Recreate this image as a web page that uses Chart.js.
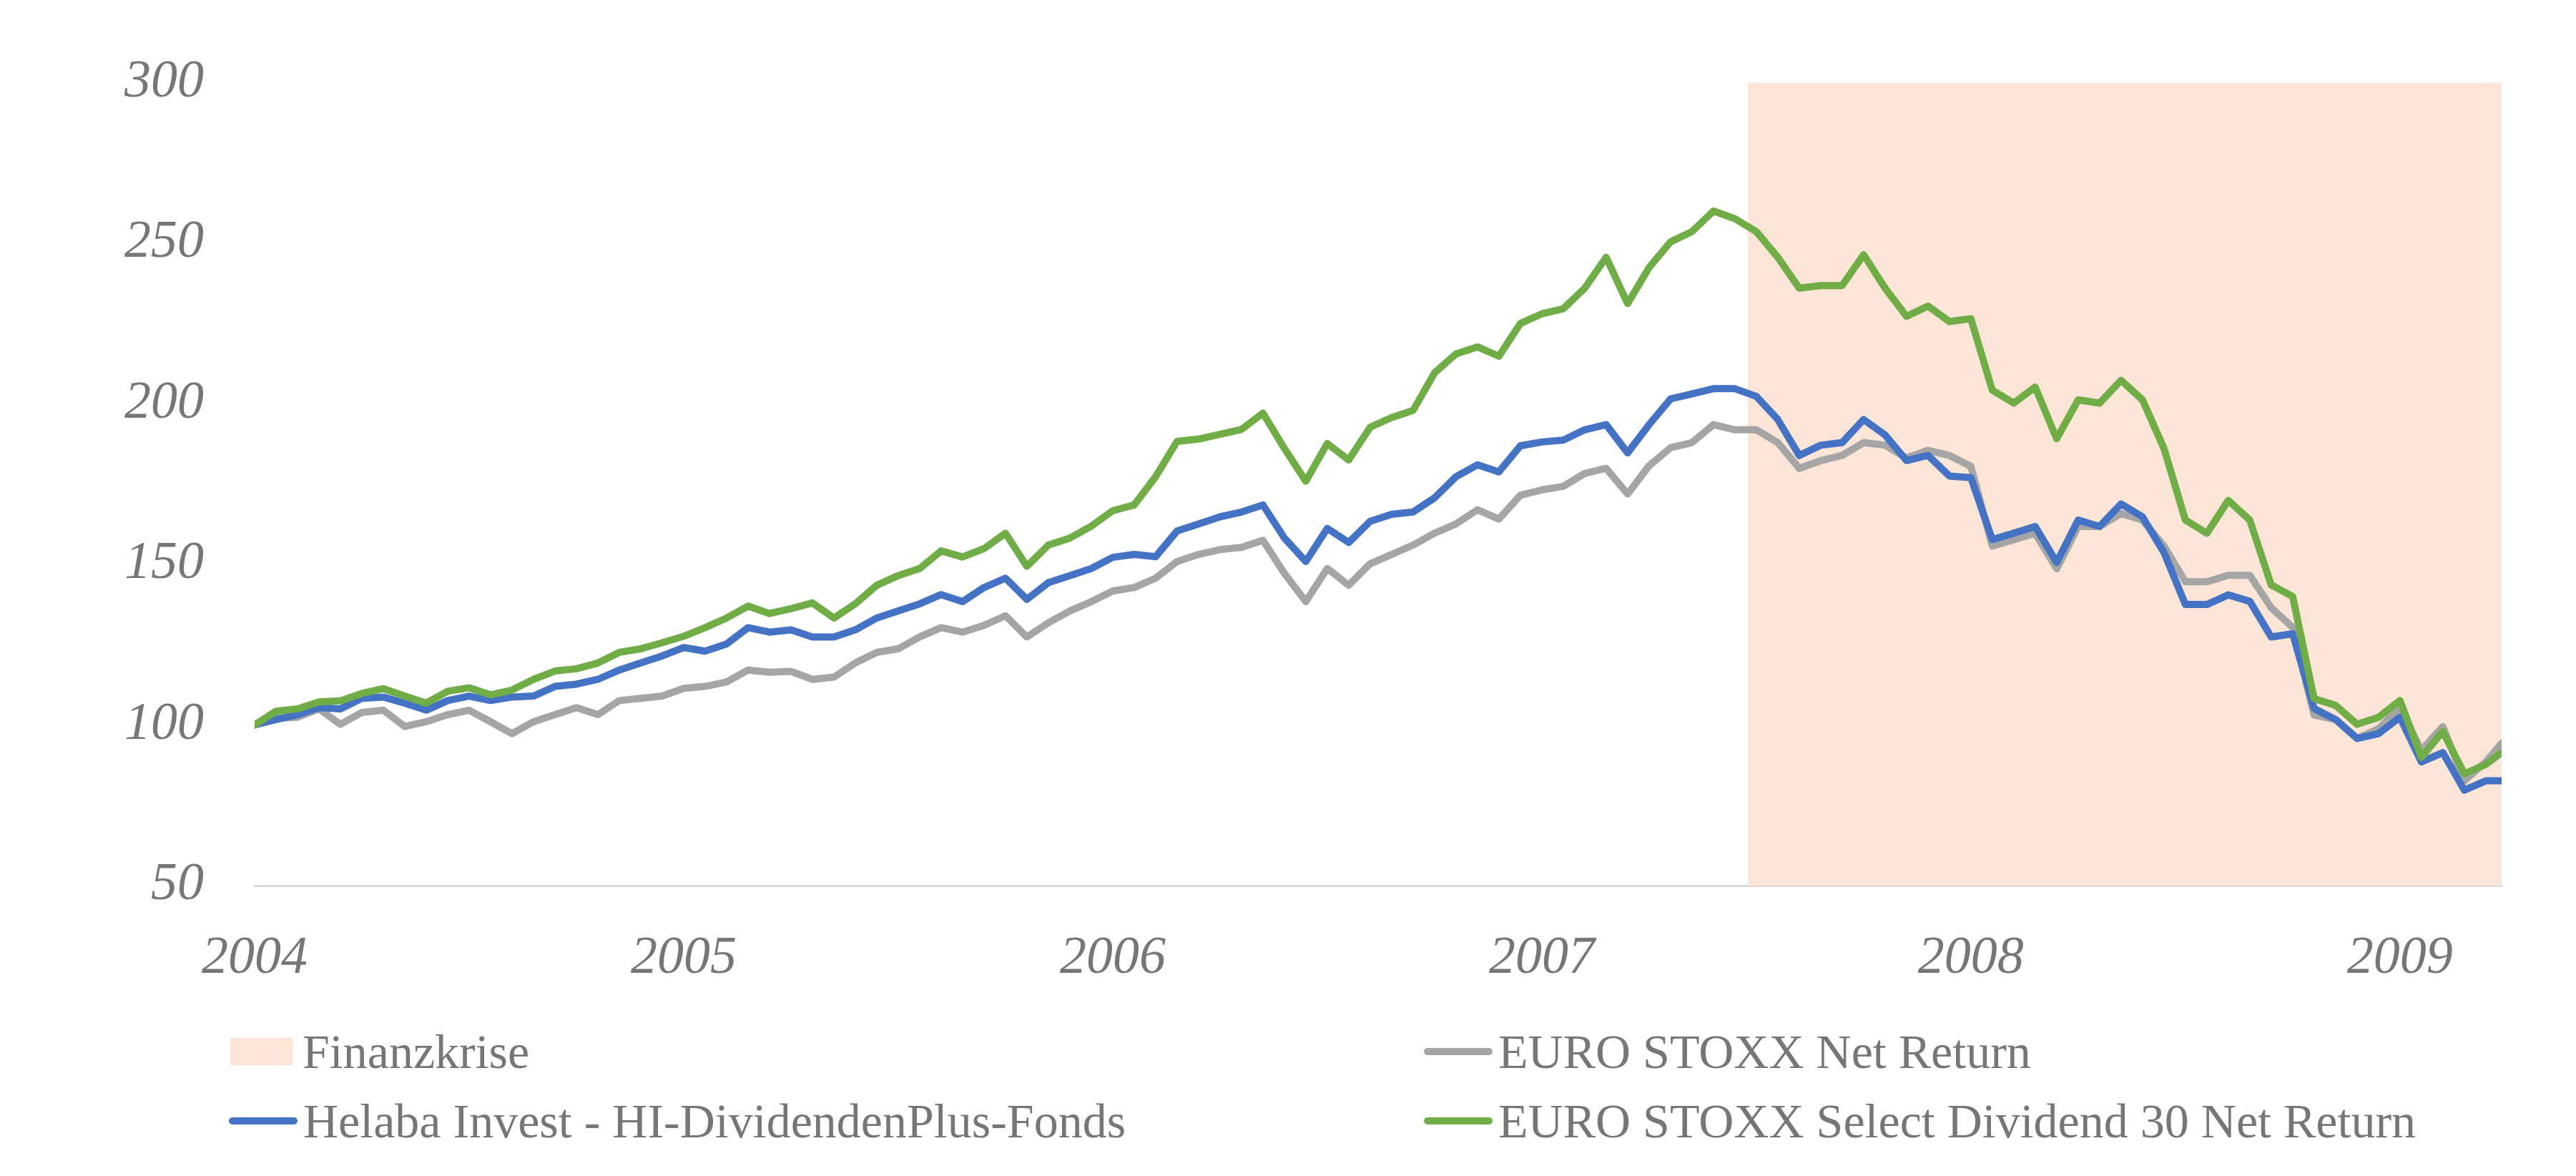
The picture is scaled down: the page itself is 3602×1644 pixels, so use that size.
<!DOCTYPE html>
<html>
<head>
<meta charset="utf-8">
<script src="https://cdn.jsdelivr.net/npm/chart.js@4.4.1/dist/chart.umd.min.js"></script>
<style>
html,body{margin:0;padding:0;background:#fff;}
#wrap{position:relative;width:3602px;height:1644px;overflow:hidden;}
#c{position:absolute;left:0;top:0;}
.leg{position:absolute;height:100px;display:flex;align-items:center;white-space:nowrap;
     font-family:"Liberation Serif",serif;font-size:68px;color:#767676;}
.key-line{width:96px;height:10px;border-radius:5px;margin-right:8px;}
.key-box{width:87px;height:38px;margin-right:14px;}
</style>
</head>
<body>
<div id="wrap">
<canvas id="c" width="3602" height="1644"></canvas>
</div>
<script>
// ---- data (decimal years) ----
const times = [
2004.00,2004.05,2004.10,2004.15,2004.20,2004.25,2004.30,2004.35,2004.40,2004.45,
2004.50,2004.55,2004.60,2004.65,2004.70,2004.75,2004.80,2004.85,2004.90,2004.95,
2005.00,2005.05,2005.10,2005.15,2005.20,2005.25,2005.30,2005.35,2005.40,2005.45,
2005.50,2005.55,2005.60,2005.65,2005.70,2005.75,2005.80,2005.85,2005.90,2005.95,
2006.00,2006.05,2006.10,2006.15,2006.20,2006.25,2006.30,2006.35,2006.40,2006.45,
2006.50,2006.55,2006.60,2006.65,2006.70,2006.75,2006.80,2006.85,2006.90,2006.95,
2007.00,2007.05,2007.10,2007.15,2007.20,2007.25,2007.30,2007.35,2007.40,2007.45,
2007.50,2007.55,2007.60,2007.65,2007.70,2007.75,2007.80,2007.85,2007.90,2007.95,
2008.00,2008.05,2008.10,2008.15,2008.20,2008.25,2008.30,2008.35,2008.40,2008.45,
2008.50,2008.55,2008.60,2008.65,2008.70,2008.75,2008.80,2008.85,2008.90,2008.95,
2009.00,2009.05,2009.10,2009.15,2009.20,2009.237
];

const helaba = [
100.0,101.7,103.2,105.4,105.0,108.3,108.7,106.8,104.6,107.6,
109.0,107.6,108.7,109.0,112.0,112.7,114.2,117.1,119.3,121.5,
124.1,123.0,125.2,130.3,128.9,129.6,127.4,127.4,129.6,133.3,
135.5,137.7,140.6,138.4,142.8,145.7,139.1,144.3,146.5,148.7,
152.2,153.1,152.4,160.4,162.6,164.8,166.3,168.5,158.2,150.9,
161.2,156.8,163.4,165.6,166.3,170.7,177.3,181.0,178.8,186.9,
188.1,188.7,191.9,193.5,184.7,193.5,201.5,203.1,204.7,204.7,
202.3,195.1,183.9,187.1,187.9,195.1,190.3,182.3,183.9,177.5,
177.0,157.7,159.7,161.8,150.6,163.8,161.8,168.8,164.8,153.7,
137.5,137.5,140.5,138.5,127.4,128.4,105.1,101.7,95.8,97.3,
102.4,88.5,91.4,79.7,82.6,82.6
];

const euroStoxx = [
100.0,102.1,102.4,105.0,100.2,103.9,104.6,99.5,101.0,103.2,
104.6,101.0,97.3,101.0,103.2,105.4,103.2,107.6,108.3,109.0,
111.4,112.0,113.4,117.1,116.4,116.7,114.2,114.9,119.3,122.6,
123.7,127.4,130.3,128.9,131.0,134.0,127.4,131.8,135.5,138.4,
141.7,142.8,145.7,150.9,153.1,154.6,155.3,157.5,147.2,138.4,
148.7,143.5,150.2,153.1,156.0,159.7,162.6,167.0,164.1,171.5,
173.2,174.3,178.3,179.9,171.9,180.7,186.3,187.9,193.5,191.9,
191.9,187.9,179.9,182.3,183.9,187.9,187.1,183.1,185.5,183.9,
180.5,155.7,157.7,159.7,148.6,161.8,161.8,165.8,163.8,155.7,
144.6,144.6,146.6,146.6,136.5,130.4,103.1,101.7,95.8,98.8,
105.4,92.1,99.5,82.6,88.5,94.3
];

const selectDiv30 = [
100.0,104.3,105.0,107.2,107.5,109.8,111.3,109.0,106.8,110.5,
111.6,109.4,110.9,114.2,116.8,117.5,119.3,122.6,123.7,125.6,
127.6,130.3,133.3,137.0,134.7,136.2,138.0,133.3,137.7,143.5,
146.5,148.7,154.2,152.3,154.9,159.7,149.4,156.0,158.2,161.9,
166.7,168.5,177.3,188.3,189.0,190.5,192.0,197.1,186.1,175.9,
187.6,182.5,192.7,195.7,197.9,209.6,215.5,217.7,214.8,225.0,
228.0,229.6,236.0,245.6,231.2,242.4,250.4,253.6,260.0,257.6,
253.6,245.6,236.0,236.8,236.8,246.4,236.0,227.2,230.4,225.6,
226.5,204.2,200.2,205.2,189.1,201.2,200.2,207.3,201.2,186.1,
163.8,159.7,169.9,163.8,143.6,140.0,108.2,106.1,100.2,102.4,
107.6,89.9,98.0,84.8,87.7,91.4
];

const crisisRange = [2007.48, 2009.237];
const crisisLevel = 300;

const xTicks = [2004, 2005, 2006, 2007, 2008, 2009];
const xTickLabels = ['2004', '2005', '2006', '2007', '2008', '2009'];
const yTicks = [50, 100, 150, 200, 250, 300];
const yTickLabels = ['50', '100', '150', '200', '250', '300'];

const names = ['Finanzkrise', 'EURO STOXX Net Return',
               'Helaba Invest - HI-DividendenPlus-Fonds',
               'EURO STOXX Select Dividend 30 Net Return'];
const colors = ['#FBE5D6', '#A5A5A5', '#4472C4', '#70AD47'];

// ---- chart ----
const pts = arr => arr.map((v, i) => ({x: times[i], y: v}));
const TEXT = '#767676';
const tickFont = {family: '"Liberation Serif", serif', size: 74, style: 'italic'};

const lineDs = (label, data, color, order) => ({
  type: 'line', label, data: pts(data), borderColor: color, backgroundColor: color,
  borderWidth: 10, pointRadius: 0, tension: 0, fill: false,
  borderJoinStyle: 'round', borderCapStyle: 'round', order
});

new Chart(document.getElementById('c'), {
  type: 'line',
  data: {
    datasets: [
      lineDs(names[3], selectDiv30, colors[3], 1),
      lineDs(names[2], helaba, colors[2], 2),
      lineDs(names[1], euroStoxx, colors[1], 3),
      {
        type: 'line', label: names[0],
        data: crisisRange.map(x => ({x, y: crisisLevel})),
        borderWidth: 0, borderColor: 'rgba(0,0,0,0)', backgroundColor: colors[0],
        pointRadius: 0, fill: 'start', order: 4
      }
    ]
  },
  options: {
    responsive: false, animation: false, devicePixelRatio: 1,
    layout: {padding: {top: 103, right: 104, bottom: 0, left: 0}},
    plugins: {legend: {display: false}, tooltip: {enabled: false}},
    scales: {
      x: {
        type: 'linear', min: xTicks[0], max: crisisRange[1], z: 1,
        afterBuildTicks: s => { s.ticks = xTicks.map(v => ({value: v})); },
        afterFit: s => { s.height = 1644 - 1238; },
        ticks: {
          callback: v => xTickLabels[xTicks.indexOf(v)],
          font: tickFont, color: TEXT, padding: 58, maxRotation: 0, autoSkip: false
        },
        grid: {display: false, drawTicks: false},
        border: {display: true, color: '#D9D9D9', width: 3}
      },
      y: {
        type: 'linear', min: yTicks[0], max: yTicks[yTicks.length - 1],
        afterBuildTicks: s => { s.ticks = yTicks.map(v => ({value: v})); },
        afterFit: s => { s.width = 356; },
        ticks: {
          callback: v => yTickLabels[yTicks.indexOf(v)],
          font: tickFont, color: TEXT, padding: 71
        },
        grid: {display: false, drawTicks: false},
        border: {display: false}
      }
    }
  }
});

// ---- legend (HTML, real text) ----
const legendItems = [
  {i: 0, kind: 'box',  left: 322,  cy: 1470},
  {i: 1, kind: 'line', left: 1991, cy: 1470},
  {i: 2, kind: 'line', left: 320,  cy: 1567},
  {i: 3, kind: 'line', left: 1991, cy: 1567}
];
const wrap = document.getElementById('wrap');
legendItems.forEach(it => {
  const d = document.createElement('div');
  d.className = 'leg';
  d.style.left = it.left + 'px';
  d.style.top = (it.cy - 50) + 'px';
  const k = document.createElement('span');
  k.className = it.kind === 'box' ? 'key-box' : 'key-line';
  k.style.background = colors[it.i];
  const t = document.createElement('span');
  t.textContent = names[it.i];
  d.appendChild(k); d.appendChild(t);
  wrap.appendChild(d);
});
</script>
</body>
</html>
